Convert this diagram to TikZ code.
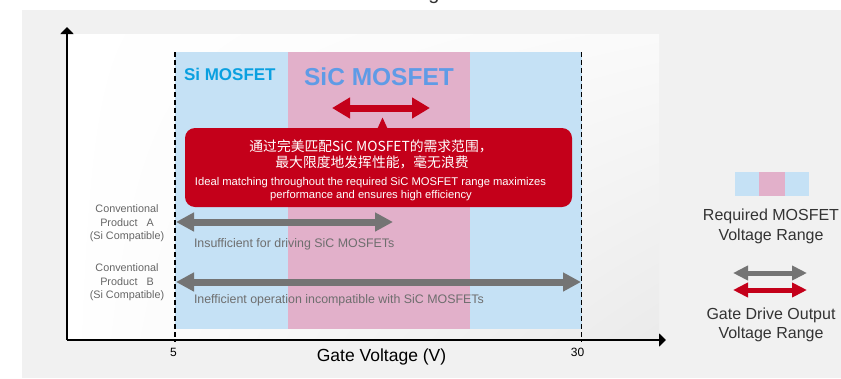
\documentclass[tikz,border=0pt]{standalone}
\usepackage{fontspec}
\setmainfont{Liberation Sans}
\newfontfamily\cjk{Noto Sans CJK SC}
\usetikzlibrary{arrows.meta,shadings}

\definecolor{bgGray}{HTML}{F1F1F1}
\definecolor{bandBlue}{HTML}{C5E1F5}
\definecolor{bandPink}{HTML}{E2B0CA}
\definecolor{driveRed}{HTML}{C4001A}
\definecolor{siBlue}{HTML}{0AA0E0}
\definecolor{sicBlue}{HTML}{5F9BE6}
\definecolor{arrowGray}{HTML}{747474}
\definecolor{noteGray}{HTML}{6E6E6E}
\definecolor{labelGray}{HTML}{666666}
\definecolor{inkDark}{HTML}{333333}

\tikzset{
  fs/.style={font=\fontsize{#1}{#1}\selectfont},
  txt/.style={inner sep=0pt, outer sep=0pt},
  axisline/.style={line width=2.3pt, -{Triangle[length=7pt,width=13pt]}},
  guide/.style={line width=1.8pt, dash pattern=on 5pt off 3pt},
  bigarrow/.style={line width=7pt, {Triangle[length=18pt,width=18pt]}-{Triangle[length=18pt,width=18pt]}},
  redarrow/.style={line width=7pt, driveRed, {Triangle[length=18pt,width=20pt]}-{Triangle[length=18pt,width=20pt]}},
  legarrow/.style={line width=5pt, {Triangle[length=15pt,width=14pt]}-{Triangle[length=15pt,width=14pt]}},
  sidelabel/.style={txt, align=center, text=labelGray, font=\fontsize{10.8}{13.5}\selectfont},
  legendtext/.style={txt, align=center, text=inkDark, font=\fontsize{16}{19.5}\selectfont},
}

\begin{document}
\begin{tikzpicture}[x=1pt, y=-1pt]
\useasboundingbox (0,0) rectangle (841,378);

% page background and chart panel
\fill[bgGray] (22,10) rectangle (841,378);
\shade[upper left=white, lower left=white, upper right=white!98!black, lower right=black!8]
  (67,34) rectangle (659,340);

% title line above the panel (only its lowest part lies on the page)
\node[txt, anchor=base, text=inkDark, fs=20] (title) at (434,-1) {g};

% voltage bands
\fill[bandBlue] (175,52) rectangle (582,329);
\fill[bandPink] (288,52) rectangle (470,329);

% axes
\coordinate (origin) at (67,340);
\coordinate (ytop) at (67,27);
\coordinate (xend) at (666,340);
\draw[axisline] (origin) -- (ytop);
\draw[axisline] (origin) -- (xend);

% dashed limits at 5 V and 30 V
\coordinate (v5top) at (175,52);
\coordinate (v5bot) at (175,342);
\coordinate (v30top) at (581.5,52);
\coordinate (v30bot) at (581.5,342);
\draw[guide] (v5top) -- (v5bot);
\draw[guide] (v30top) -- (v30bot);

\node[txt, fs=12] (t5) at (173.5,352.5) {5};
\node[txt, fs=12] (t30) at (577.5,352.5) {30};
\node[txt, fs=17.5, text=black] (xlabel) at (381.5,357) {Gate Voltage (V)};

% band titles
\node[txt, anchor=west, text=siBlue, font=\bfseries\fontsize{17}{20}\selectfont] (si) at (184,74.5) {Si MOSFET};
\node[txt, text=sicBlue, font=\bfseries\fontsize{24.5}{28}\selectfont] (sic) at (379,77) {SiC MOSFET};

% proposed gate drive range
\coordinate (rL) at (332,108);
\coordinate (rR) at (430,108);
\draw[redarrow] (rL) -- (rR);

% call-out
\fill[driveRed, rounded corners=10pt] (185,128) rectangle (572,207);
\fill[driveRed] (377.5,128.5) -- (382.5,117.5) -- (387.5,128.5) -- cycle;
\node[txt, text=white, font=\cjk\fontsize{13.8}{16}\selectfont] (cn1) at (371,146.5) {通过完美匹配SiC MOSFET的需求范围，};
\node[txt, text=white, font=\cjk\fontsize{13.8}{16}\selectfont] (cn2) at (372,162) {最大限度地发挥性能，毫无浪费};
\node[txt, text=white, fs=11.2] (en1) at (370.5,183) {Ideal matching throughout the required SiC MOSFET range maximizes};
\node[txt, text=white, fs=11.2] (en2) at (371,196) {performance and ensures high efficiency};

% conventional product A
\node[sidelabel] (pa) at (127,223.5) {Conventional\\Product\hspace{9pt}A\\(Si Compatible)};
\coordinate (aL) at (176,222);
\coordinate (aR) at (393,222);
\draw[bigarrow, arrowGray] (aL) -- (aR);
\node[txt, anchor=west, text=noteGray, fs=12.4] (na) at (194,244) {Insufficient for driving SiC MOSFETs};

% conventional product B
\node[sidelabel] (pb) at (127,282.5) {Conventional\\Product\hspace{9pt}B\\(Si Compatible)};
\coordinate (bL) at (176,282);
\coordinate (bR) at (581,282);
\draw[bigarrow, arrowGray] (bL) -- (bR);
\node[txt, anchor=west, text=noteGray, fs=12.4] (nb) at (194,300) {Inefficient operation incompatible with SiC MOSFETs};

% legend
\fill[bandBlue] (735,172) rectangle (809,196);
\fill[bandPink] (759,172) rectangle (785,196);
\node[legendtext] (lg1) at (771,226.5) {Required MOSFET\\Voltage Range};
\coordinate (lgL) at (733,273);
\coordinate (lgR) at (807,273);
\draw[legarrow, arrowGray] (lgL) -- (lgR);
\coordinate (lrL) at (733,290);
\coordinate (lrR) at (807,290);
\draw[legarrow, driveRed] (lrL) -- (lrR);
\node[legendtext] (lg2) at (771,325) {Gate Drive Output\\Voltage Range};
\end{tikzpicture}
\end{document}
